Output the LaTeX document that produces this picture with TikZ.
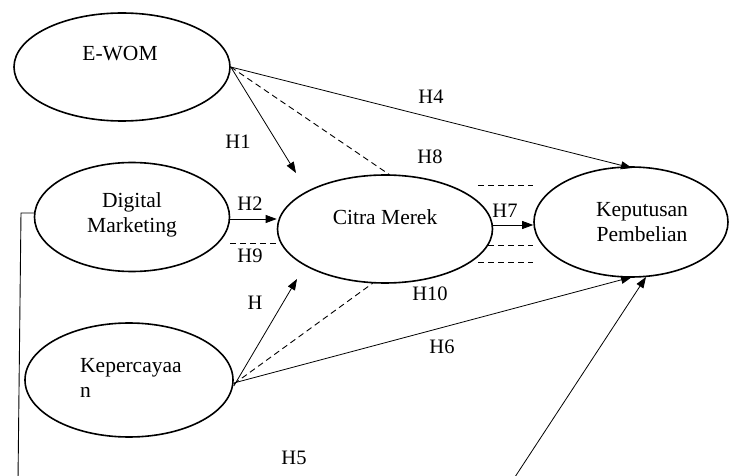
\documentclass[tikz,border=0pt]{standalone}
\usepackage{fontspec}
\setmainfont{Liberation Serif}
\usetikzlibrary{shapes.geometric,arrows.meta}
\begin{document}
\begin{tikzpicture}[x=1pt,y=-1pt,
 var/.style={ellipse,draw,line width=1.6pt,inner sep=0pt},
 txt/.style={font=\fontsize{21.5}{25.5}\selectfont,inner sep=0pt,align=center},
 lbl/.style={font=\fontsize{20.5}{24}\selectfont,inner sep=0pt},
 arr/.style={line width=0.8pt,-{Triangle[length=11pt,width=8pt]}},
 dsh/.style={line width=0.9pt,dash pattern=on 6pt off 4pt},
 ln/.style={line width=0.9pt}]
\useasboundingbox (0,0) rectangle (737,476);
% ellipses
\node[var,minimum width=216pt,minimum height=108pt] (ewom) at (122,67) {};
\node[var,minimum width=195pt,minimum height=109pt] (dm) at (132,217) {};
\node[var,minimum width=215pt,minimum height=108pt] (cm) at (385,229) {};
\node[var,minimum width=194pt,minimum height=110pt] (kp) at (631,222) {};
\node[var,minimum width=208pt,minimum height=114pt] (kc) at (129,380) {};
% texts
\node[txt] (tewom) at (120,54) {E-WOM};
\node[txt] (tdm) at (132,215) {Digital\\Marketing};
\node[txt] (tcm) at (385,217) {Citra Merek};
\node[txt] (tkp) at (642,222) {Keputusan\\Pembelian};
\node[txt,anchor=west,align=left] (tkc) at (80,378) {Kepercayaa\\n};
% free coordinates
\coordinate (h1tip) at (296,173);
\coordinate (h8end) at (390,175);
\coordinate (h4tip) at (632,168);
\coordinate (h3tip) at (297,279);
\coordinate (h10end) at (373,283);
\coordinate (h6tip) at (632,277);
\coordinate (h5tip) at (646,277);
\coordinate (h5start) at (513,480);
\coordinate (brtop) at (21,213);
\coordinate (brbot) at (18,480);
\coordinate (dmleft) at (34,213);
\coordinate (h2a) at (230,219);
\coordinate (h7a) at (493,225);
\coordinate (h9a) at (230,243);
\coordinate (h9b) at (280,243);
\coordinate (da1) at (478,185);
\coordinate (da2) at (533,185);
\coordinate (db1) at (488,245);
\coordinate (db2) at (533,245);
\coordinate (dc1) at (478,262);
\coordinate (dc2) at (533,262);
% connectors from E-WOM
\draw[arr] (ewom.east) -- (h1tip);
\draw[dsh] (ewom.east) -- (h8end);
\draw[arr] (ewom.east) -- (h4tip);
% Digital Marketing
\draw[arr] (h2a) -- (h2a -| cm.west);
\draw[dsh] (h9a) -- (h9b);
% Citra Merek
\draw[arr] (h7a) -- (h7a -| kp.west);
\draw[dsh] (da1) -- (da2);
\draw[dsh] (db1) -- (db2);
\draw[dsh] (dc1) -- (dc2);
% Kepercayaan
\draw[arr] ([yshift=-6pt]kc.east) -- (h3tip);
\draw[dsh] ([yshift=-4pt]kc.east) -- (h10end);
\draw[arr] ([yshift=-3pt]kc.east) -- (h6tip);
% bottom line and bracket
\draw[arr] (h5start) -- (h5tip);
\draw[ln] (dmleft) -- (brtop) -- (brbot);
% labels
\node[lbl] (l1) at (238,142) {H1};
\node[lbl] (l2) at (250,204) {H2};
\node[lbl] (l3) at (255,303) {H};
\node[lbl] (l4) at (431,97) {H4};
\node[lbl] (l5) at (294,458) {H5};
\node[lbl] (l6) at (442,347) {H6};
\node[lbl] (l7) at (505,211) {H7};
\node[lbl] (l8) at (430,157) {H8};
\node[lbl] (l9) at (250,256) {H9};
\node[lbl] (l10) at (430,294) {H10};
\end{tikzpicture}
\end{document}
